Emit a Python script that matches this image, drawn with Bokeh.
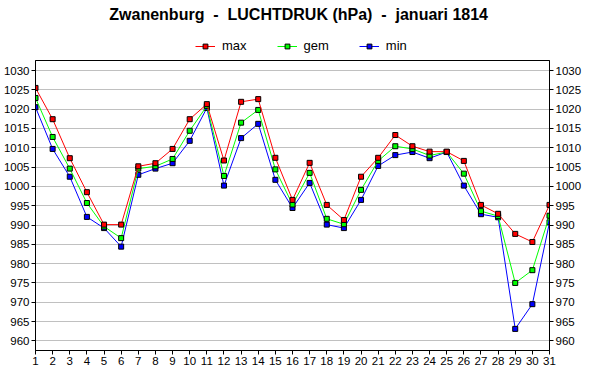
from bokeh.plotting import figure
from bokeh.models import Range1d, FixedTicker, LinearAxis, Legend, LegendItem
from bokeh.layouts import column
from bokeh.core.properties import value
from bokeh.embed import file_html
from bokeh.resources import INLINE

days = list(range(1, 32))
max_vals = [1025.5, 1017.4, 1007.3, 998.5, 990.1, 990.1, 1005.2, 1006.0, 1009.7, 1017.4,
            1021.3, 1006.7, 1021.9, 1022.6, 1007.4, 996.5, 1006.1, 995.2, 991.3, 1002.5,
            1007.4, 1013.3, 1010.4, 1009.0, 1009.0, 1006.6, 995.2, 992.9, 987.7, 985.6, 995.2]
gem_vals = [1022.9, 1012.8, 1004.6, 995.7, 989.6, 986.6, 1004.6, 1005.2, 1007.1, 1014.4,
            1020.8, 1002.7, 1016.5, 1019.8, 1004.4, 995.3, 1003.5, 991.6, 990.2, 999.1,
            1006.6, 1010.4, 1009.7, 1008.0, 1008.9, 1003.3, 993.6, 992.3, 975.0, 978.3, 992.4]
min_vals = [1020.5, 1009.7, 1002.5, 992.1, 989.2, 984.4, 1003.0, 1004.6, 1006.0, 1011.8,
            1020.3, 1000.2, 1012.5, 1016.2, 1001.7, 994.4, 1000.9, 990.1, 989.2, 996.5,
            1005.3, 1008.1, 1008.9, 1007.3, 1008.9, 1000.2, 992.8, 992.0, 963.1, 969.5, 990.7]
y_ticks = list(range(960, 1031, 5))
series_names = ["max", "gem", "min"]
series_colors = {"max": "#ff0000", "gem": "#00ff00", "min": "#0000ff"}
title_text = "Zwanenburg\u00a0 -\u00a0 LUCHTDRUK (hPa)\u00a0 -\u00a0 januari 1814"

FONT = "Liberation Sans"
W = 584
TOP_H = 56

# ---------- header figure: title + legend ----------
head = figure(width=W, height=TOP_H, output_backend="svg", toolbar_location=None,
              x_range=Range1d(0, W), y_range=Range1d(0, TOP_H),
              min_border=0, min_border_left=0, min_border_right=0,
              min_border_top=0, min_border_bottom=0)
head.axis.visible = False
head.grid.visible = False
head.outline_line_color = None
head.background_fill_color = "white"
head.border_fill_color = "white"

head.text(x=[W / 2 + 7], y=[TOP_H - 14], text=[title_text], text_font=value(FONT),
          text_font_size="16px", text_font_style="bold", text_color="black",
          text_align="center", text_baseline="middle")

head_items = []
for n in series_names:
    c = series_colors[n]
    l = head.line(x=[-10, -5], y=[-10, -10], line_color=c, line_width=1)
    s = head.scatter(x=[-10], y=[-10], marker="square", size=5, fill_color=c,
                     line_color="black", line_width=1)
    head_items.append(LegendItem(label=n, renderers=[l, s]))

legend = Legend(items=head_items, orientation="horizontal", location=(160, 3))
legend.label_text_font = FONT
legend.label_text_font_size = "13px"
legend.label_text_color = "black"
legend.glyph_width = 20
legend.glyph_height = 12
legend.label_height = 12
legend.label_standoff = 7
legend.spacing = 30
legend.padding = 2
legend.margin = 0
legend.border_line_color = None
legend.background_fill_alpha = 0
head.add_layout(legend, "center")

# ---------- main chart ----------
p = figure(width=W, height=322, output_backend="svg", toolbar_location=None,
           x_range=Range1d(1, 31), y_range=Range1d(957.5, 1032.6),
           min_border_left=28, min_border_right=27, min_border_top=4, min_border_bottom=28)

p.background_fill_color = "white"
p.border_fill_color = "white"
p.outline_line_color = "black"
p.outline_line_width = 1

p.xgrid.visible = False
p.ygrid.ticker = FixedTicker(ticks=y_ticks)
p.ygrid.grid_line_color = "#c0c0c0"
p.ygrid.grid_line_width = 1

p.xaxis.ticker = FixedTicker(ticks=days)
p.yaxis.ticker = FixedTicker(ticks=y_ticks)

right_axis = LinearAxis(ticker=FixedTicker(ticks=y_ticks))
p.add_layout(right_axis, "right")

for ax in p.xaxis + p.yaxis:
    ax.axis_line_color = "black"
    ax.major_tick_line_color = "black"
    ax.major_tick_in = 0
    ax.major_tick_out = 4
    ax.minor_tick_line_color = None
    ax.major_label_text_font = FONT
    ax.major_label_text_font_size = "11.5px"
    ax.major_label_text_color = "black"
    ax.major_label_standoff = 2

data = {"max": max_vals, "gem": gem_vals, "min": min_vals}
for n in ["min", "gem", "max"]:
    c = series_colors[n]
    p.line(days, data[n], line_color=c, line_width=1)
    p.scatter(days, data[n], marker="square", size=5, fill_color=c, line_color="black", line_width=1)

layout = column(head, p, spacing=0)
open("out.html", "w").write(file_html(layout, INLINE))
